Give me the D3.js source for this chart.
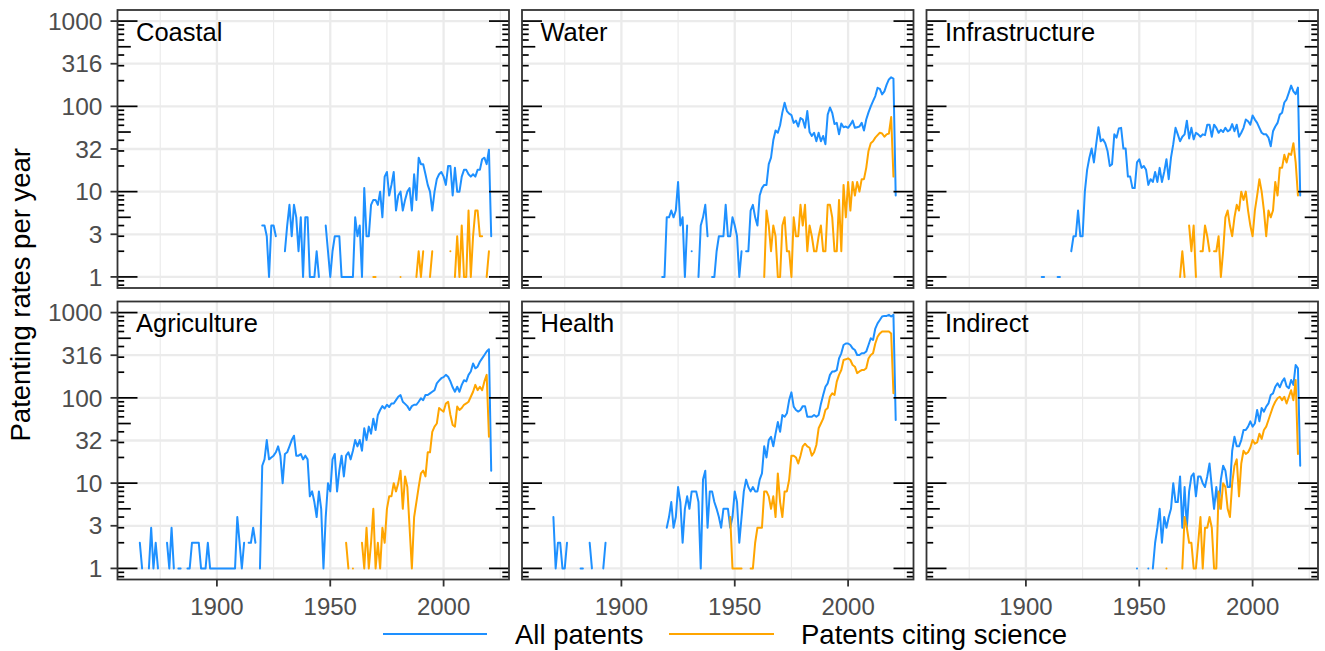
<!DOCTYPE html>
<html>
<head>
<meta charset="utf-8">
<script src="https://cdn.jsdelivr.net/npm/d3@7"></script>
<style>
  body { margin: 0; background: #ffffff; }
  svg { display: block; }
  text { font-family: "Liberation Sans", Arial, Helvetica, sans-serif; }
</style>
</head>
<body>
<svg id="chart" width="1325" height="651"></svg>
<script>
// ---------------- DATA ----------------
const panelNames = ["Coastal", "Water", "Infrastructure", "Agriculture", "Health", "Indirect"];
const seriesNames = ["All patents", "Patents citing science"];

const coastalAllStart = 1920;
const coastalAll = [4,4,3,1,4,4,3,null,null,null,
  2,4,7,3,7,5,2,5,1,5,
  5,1,1,1,2,1,null,null,4,2,
  1,2,3,3,3,1,1,1,1,1,
  1,5,3,4,1,11,3,3,7,8,
  8,7,10,5,15,17,9,12,17,6,
  9,10,6,8,10,11,6,16,8,25,
  21,21,16,12,10,6,10,14,16,17,
  15,12,20,20,9,19,10,10,15,18,
  18,16,15,16,15,18,18,24,25,21,
  31,3];
const coastalSciStart = 1969;
const coastalSci = [1,1,null,null,null,null,null,null,null,null,
  null,null,1,null,null,null,null,null,null,1,
  2,1,2,null,null,1,2,null,null,null,
  null,null,null,null,2,null,1,3,1,4,
  1,1,6,1,3,6,6,3,3,null,
  1,2];

const waterAllStart = 1918;
const waterAll = [1,1,
  5,5,6,5,6,13,4,5,1,4,
  null,2,null,null,1,4,5,7,3,null,
  1,1,2,3,3,3,7,3,3,5,
  4,3,1,2,null,2,2,6,7,5,
  4,9,11,12,12,21,25,40,52,49,
  60,85,110,88,82,79,64,68,58,73,
  70,56,88,50,45,49,39,49,39,45,
  36,80,97,84,62,64,47,63,57,58,
  56,61,68,56,57,58,64,52,70,85,
  100,115,132,165,160,138,150,180,207,219,
  212,9];
const waterSciStart = 1963;
const waterSci = [1,6,4,2,4,3,1,
  1,4,5,2,2,1,5,3,3,7,
  4,7,2,4,3,2,2,3,4,2,
  2,7,7,5,2,2,8,2,12,5,
  13,6,13,9,13,10,14,14,19,30,
  37,39,43,46,49,48,44,47,48,75,
  15];

const infraAllStart = 1907;
const infraAll = [1,1,null,
  null,null,null,null,1,1,null,null,null,null,
  2,3,3,6,3,3,10,18,25,32,
  22,36,57,39,41,37,30,20,21,47,
  43,55,56,32,32,15,15,11,11,22,
  24,19,20,18,12,14,13,17,13,19,
  13,17,24,14,25,36,56,47,39,44,
  47,68,42,56,41,49,47,44,47,46,
  61,61,44,61,56,49,53,50,56,51,
  53,62,51,61,44,49,56,70,67,61,
  78,70,64,56,49,47,47,43,34,51,
  58,64,80,84,111,121,145,175,150,139,
  166,9];
const infraSciStart = 1968;
const infraSci = [1,2,
  1,null,4,2,4,1,null,2,2,4,
  3,2,null,2,2,3,1,2,5,6,
  4,3,5,7,6,10,8,10,6,4,
  3,6,9,14,10,6,3,6,5,6,
  13,9,19,19,27,22,28,27,37,22,
  9];

const agriAllStart = 1866;
const agriAll = [2,1,null,null,
  1,3,1,2,1,null,null,null,2,1,
  3,1,null,1,1,null,null,1,1,2,
  2,2,2,1,1,1,2,1,1,1,
  1,1,1,1,1,1,1,1,1,4,
  2,1,2,null,2,2,3,2,null,1,
  16,19,32,19,20,21,23,27,21,10,
  22,23,27,32,36,21,21,22,19,21,
  19,7,8,6,4,8,5,1,4,10,
  8,19,22,8,14,21,12,21,23,19,
  24,32,27,32,24,44,32,46,38,57,
  42,63,72,80,75,83,78,86,86,94,
  103,108,90,85,80,72,80,83,83,90,
  99,94,108,108,113,118,123,148,159,170,
  175,186,177,156,133,118,135,118,142,161,
  156,186,204,253,222,232,265,290,318,349,
  371,14];
const agriSciStart = 1957;
const agriSci = [2,1,null,
  1,null,null,null,2,1,3,1,2,5,
  1,2,1,3,2,5,7,7,10,8,
  10,14,5,12,9,3,1,4,6,9,
  13,14,12,23,23,40,46,50,76,72,
  69,86,90,63,48,46,79,72,76,83,
  86,90,103,118,142,123,135,123,156,186,
  35];

const healthAllStart = 1870;
const healthAll = [4,1,2,2,1,1,2,null,null,null,
  null,null,1,1,null,null,2,1,null,null,
  null,null,1,2,null,null,null,null,null,null,
  null,null,null,null,null,null,null,null,null,null,
  null,null,null,null,null,null,null,null,null,null,
  3,4,6,3,4,9,6,2,5,7,
  5,8,8,8,6,1,11,14,3,8,
  8,6,5,4,3,5,5,5,3,4,
  8,6,2,4,8,11,9,8,9,8,
  8,11,13,27,20,32,35,27,38,52,
  40,63,60,66,94,116,79,72,69,72,
  80,80,60,60,60,63,60,63,85,108,
  135,148,186,204,204,212,290,333,417,434,
  434,417,380,364,318,318,333,333,349,417,
  500,477,650,748,818,900,915,915,940,900,
  940,55];
const healthSciStart = 1948;
const healthSci = [4,1,
  1,1,1,1,null,null,null,1,1,2,
  3,3,3,8,8,7,5,7,4,13,
  6,4,8,8,11,21,21,20,17,21,
  27,29,27,26,21,23,28,44,50,57,
  72,76,103,113,108,155,186,212,278,283,
  290,278,243,232,195,204,212,212,222,290,
  318,333,434,520,570,600,600,600,600,570,
  113];

const indirAllStart = 1949;
const indirAll = [1,
  null,null,null,null,1,null,1,2,3,5,
  2,4,3,4,5,10,6,6,12,3,
  9,3,8,12,13,7,12,12,10,9,
  12,17,9,5,9,5,11,16,14,9,
  9,24,35,27,27,32,42,42,46,53,
  46,50,72,53,76,69,79,86,108,113,
  135,148,133,155,170,137,130,162,142,243,
  222,16];
const indirSciStart = 1962;
const indirSci = [1,
  null,null,null,null,null,null,1,
  4,3,2,2,1,1,2,4,1,3,
  3,4,3,1,1,8,5,10,9,5,
  4,10,16,19,7,17,24,22,23,26,
  32,29,30,38,33,42,46,55,66,79,
  90,99,103,94,103,86,103,123,94,162,
  22];

// axis ticks
const xMajorTicks = [1900, 1950, 2000];
const xMinorTicks = [1875, 1925, 1975, 2025];
const yTickValues = [1, 3.1623, 10, 31.623, 100, 316.23, 1000];
const yTickLabels = ["1", "3", "10", "32", "100", "316", "1000"];

// ---------------- LAYOUT ----------------
const colLeft = [117.5, 522, 926.5];
const rowTop = [10, 301.5];
const pw = 391.5, ph = 278;
const xDomain = [1856.15, 2028.85];
const yDomain = [Math.pow(10, -0.13), Math.pow(10, 3.13)];
const colors = ["#1E90FF", "#FFA500"];

const panels = [
  {all: coastalAll, allStart: coastalAllStart, sci: coastalSci, sciStart: coastalSciStart},
  {all: waterAll, allStart: waterAllStart, sci: waterSci, sciStart: waterSciStart},
  {all: infraAll, allStart: infraAllStart, sci: infraSci, sciStart: infraSciStart},
  {all: agriAll, allStart: agriAllStart, sci: agriSci, sciStart: agriSciStart},
  {all: healthAll, allStart: healthAllStart, sci: healthSci, sciStart: healthSciStart},
  {all: indirAll, allStart: indirAllStart, sci: indirSci, sciStart: indirSciStart}
];

const svg = d3.select("#chart");
svg.append("rect").attr("width", 1325).attr("height", 651).attr("fill", "#fff");

const x = d3.scaleLinear().domain(xDomain).range([0, pw]);
const y = d3.scaleLog().domain(yDomain).range([ph, 0]);

// log tick marks (annotation_logticks style)
const logTicks = [];
for (let e = -1; e <= 3; e++) {
  for (let k = 1; k <= 9; k++) {
    const v = k * Math.pow(10, e);
    if (v >= yDomain[0] && v <= yDomain[1]) logTicks.push({v, len: k === 1 ? 20 : (k === 5 ? 13.3 : 6.7)});
  }
}

function runs(start, arr) {
  const out = [];
  let cur = [];
  arr.forEach((v, i) => {
    if (v == null) { if (cur.length) out.push(cur); cur = []; }
    else cur.push({year: start + i, v});
  });
  if (cur.length) out.push(cur);
  return out.map(r => r.length === 1 ? [r[0], r[0]] : r);
}

const line = d3.line().x(d => x(d.year)).y(d => y(d.v));

panels.forEach((p, i) => {
  const col = i % 3, row = Math.floor(i / 3);
  const g = svg.append("g").attr("transform", `translate(${colLeft[col]},${rowTop[row]})`);

  // grid
  g.selectAll(".gmin").data(xMinorTicks).join("line")
    .attr("x1", d => x(d)).attr("x2", d => x(d)).attr("y1", 0).attr("y2", ph)
    .attr("stroke", "#EBEBEB").attr("stroke-width", 1.2);
  g.selectAll(".gmaj").data(xMajorTicks).join("line")
    .attr("x1", d => x(d)).attr("x2", d => x(d)).attr("y1", 0).attr("y2", ph)
    .attr("stroke", "#EBEBEB").attr("stroke-width", 2.3);
  g.selectAll(".gy").data(yTickValues).join("line")
    .attr("x1", 0).attr("x2", pw).attr("y1", d => y(d)).attr("y2", d => y(d))
    .attr("stroke", "#EBEBEB").attr("stroke-width", 2.3);

  // series
  [[p.all, p.allStart], [p.sci, p.sciStart]].forEach(([arr, start], si) => {
    g.append("g").selectAll("path").data(runs(start, arr)).join("path")
      .attr("d", line)
      .attr("fill", "none")
      .attr("stroke", colors[si])
      .attr("stroke-width", 2.0)
      .attr("stroke-linecap", "round")
      .attr("stroke-linejoin", "round");
  });

  // log ticks left and right
  g.selectAll(".ltl").data(logTicks).join("line")
    .attr("x1", 0).attr("x2", d => d.len).attr("y1", d => y(d.v)).attr("y2", d => y(d.v))
    .attr("stroke", "#000").attr("stroke-width", 1.7);
  g.selectAll(".ltr").data(logTicks).join("line")
    .attr("x1", d => pw - d.len).attr("x2", pw).attr("y1", d => y(d.v)).attr("y2", d => y(d.v))
    .attr("stroke", "#000").attr("stroke-width", 1.7);

  // panel label
  g.append("text").attr("x", 18.5).attr("y", 30.5)
    .attr("font-size", 25.5).attr("fill", "#000").text(panelNames[i]);

  // border
  g.append("rect").attr("x", 0).attr("y", 0).attr("width", pw).attr("height", ph)
    .attr("fill", "none").attr("stroke", "#333333").attr("stroke-width", 1.8);

  // y axis on first column
  if (col === 0) {
    const ax = g.append("g");
    yTickValues.forEach((v, k) => {
      ax.append("line").attr("x1", -7).attr("x2", 0).attr("y1", y(v)).attr("y2", y(v))
        .attr("stroke", "#333333").attr("stroke-width", 1.8);
      ax.append("text").attr("x", -15).attr("y", y(v) + 8.7)
        .attr("text-anchor", "end").attr("font-size", 24.5).attr("fill", "#4D4D4D")
        .text(yTickLabels[k]);
    });
  }
  // x axis on bottom row
  if (row === 1) {
    const ax = g.append("g");
    xMajorTicks.forEach(v => {
      ax.append("line").attr("x1", x(v)).attr("x2", x(v)).attr("y1", ph).attr("y2", ph + 7)
        .attr("stroke", "#333333").attr("stroke-width", 1.8);
      ax.append("text").attr("x", x(v)).attr("y", ph + 35)
        .attr("text-anchor", "middle").attr("font-size", 24).attr("fill", "#4D4D4D")
        .text(v);
    });
  }
});

// y title
svg.append("text")
  .attr("transform", `translate(30,${(rowTop[0] + rowTop[1] + ph) / 2}) rotate(-90)`)
  .attr("text-anchor", "middle").attr("font-size", 27.5).attr("fill", "#000")
  .text("Patenting rates per year");

// legend
const legend = svg.append("g");
const legendItems = [
  {x1: 383, x2: 487, tx: 515},
  {x1: 669, x2: 774, tx: 801}
];
legendItems.forEach((it, k) => {
  legend.append("line").attr("x1", it.x1).attr("x2", it.x2).attr("y1", 634).attr("y2", 634)
    .attr("stroke", colors[k]).attr("stroke-width", 2.0);
  legend.append("text").attr("x", it.tx).attr("y", 643.5)
    .attr("font-size", 27.5).attr("fill", "#000").text(seriesNames[k]);
});
</script>
</body>
</html>
